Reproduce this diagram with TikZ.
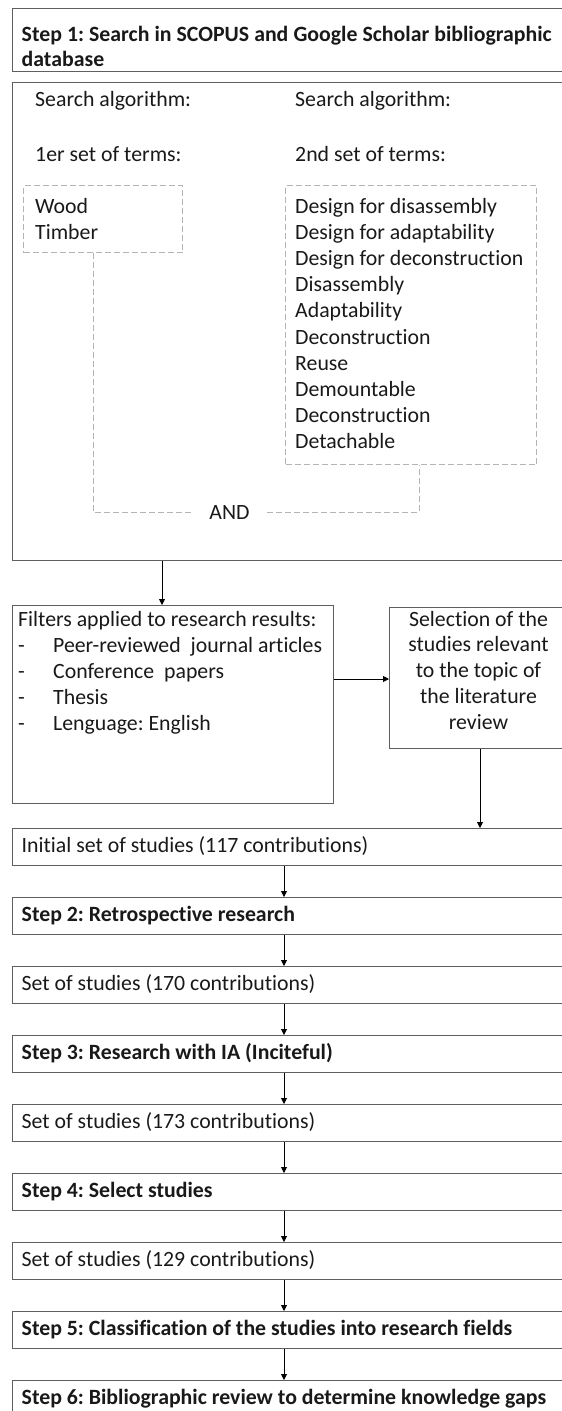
\documentclass[tikz,border=0pt]{standalone}
\usepackage{fontspec}
\setmainfont{Carlito}[Ligatures=NoCommon]
\usetikzlibrary{arrows.meta}
\frenchspacing
\definecolor{boxgray}{RGB}{95,95,95}
\definecolor{dashgray}{RGB}{180,180,180}
\definecolor{txtc}{RGB}{25,25,25}
\newcommand\myfs{\fontsize{21.8}{26.3}\selectfont}
\tikzset{
 mainbox/.style={draw=boxgray, line width=1.4pt, rectangle, inner sep=0pt, anchor=north west},
 dbox/.style={draw=dashgray, line width=1pt, dash pattern=on 6pt off 3pt, rectangle, inner sep=0pt, anchor=north west},
 dline/.style={draw=dashgray, line width=1pt, dash pattern=on 6pt off 3pt},
 lbl/.style={font=\myfs, text=txtc, inner sep=0pt, anchor=base west},
 blbl/.style={font=\myfs\bfseries, text=txtc, inner sep=0pt, anchor=base west},
 clbl/.style={font=\myfs, text=txtc, inner sep=0pt, anchor=base},
 arr/.style={-{Triangle[length=6pt,width=6pt]}, line width=0.9pt, black},
}
\begin{document}
\begin{tikzpicture}[x=1pt,y=-1pt]
\useasboundingbox (0,0) rectangle (562,1411);
\clip (0,0) rectangle (562,1411);
% boxes
\node[mainbox, minimum width=563pt, minimum height=63pt] (b1) at (12,8) {};
\node[mainbox, minimum width=563pt, minimum height=478pt] (b2) at (12,82) {};
\node[dbox, minimum width=159pt, minimum height=67pt] (lbox) at (23,185) {};
\node[dbox, minimum width=251pt, minimum height=279pt] (rbox) at (285,185) {};
\node[mainbox, minimum width=321pt, minimum height=198pt] (filt) at (12,605) {};
\node[mainbox, minimum width=179pt, minimum height=141pt] (sel) at (389,607) {};
\node[mainbox, minimum width=563pt, minimum height=36.5pt] (init) at (12,828) {};
\node[mainbox, minimum width=563pt, minimum height=36.5pt] (s2) at (12,897) {};
\node[mainbox, minimum width=563pt, minimum height=36.5pt] (set170) at (12,966) {};
\node[mainbox, minimum width=563pt, minimum height=36.5pt] (s3) at (12,1035) {};
\node[mainbox, minimum width=563pt, minimum height=36.5pt] (set173) at (12,1104) {};
\node[mainbox, minimum width=563pt, minimum height=36.5pt] (s4) at (12,1173) {};
\node[mainbox, minimum width=563pt, minimum height=36.5pt] (set129) at (12,1242) {};
\node[mainbox, minimum width=563pt, minimum height=36.5pt] (s5) at (12,1311) {};
\node[mainbox, minimum width=563pt, minimum height=36.5pt] (s6) at (12,1380) {};
% texts
\node[blbl] (b1a) at (21.5,41) {\makebox[530pt][s]{Step 1: Search in SCOPUS and Google Scholar bibliographic}};
\node[blbl] (b1b) at (21.5,66) {database};
\node[lbl] (sa1) at (35,106) {Search algorithm:};
\node[lbl] (sa2) at (295,106) {Search algorithm:};
\node[lbl] (st1) at (35,161) {1er set of terms:};
\node[lbl] (st2) at (295,161) {2nd set of terms:};
\node[lbl] (wood) at (35,213) {Wood};
\node[lbl] (timber) at (35,239.2) {Timber};
\foreach \t [count=\i from 0] in {Design for disassembly,Design for adaptability,Design for deconstruction,Disassembly,Adaptability,Deconstruction,Reuse,Demountable,Deconstruction,Detachable}
  \node[lbl] (term\i) at (295,213+26.2*\i) {\t};
\node[font=\myfs, text=txtc, inner ysep=0pt, inner xsep=17pt] (and) at (229.5,512) {AND};
\node[lbl] (f0) at (18,626) {Filters applied to research results:};
\foreach \t [count=\i] in {Peer-reviewed\ \ journal articles,Conference\ \ papers,Thesis,Lenguage: English}{
  \node[lbl] (fd\i) at (18,626+26*\i) {-};
  \node[lbl] (f\i) at (53,626+26*\i) {\t};
}
\foreach \t [count=\i from 0] in {Selection of the,studies relevant,to the topic of,the literature,review}
  \node[clbl] (sl\i) at (478.5,626+25.75*\i) {\t};
\node[lbl] (initt) at (21.5,852.5) {Initial set of studies (117 contributions)};
\node[blbl] (s2t) at (21.5,921.5) {Step 2: Retrospective research};
\node[lbl] (set170t) at (21.5,990.5) {Set of studies (170 contributions)};
\node[blbl] (s3t) at (21.5,1059.5) {Step 3: Research with IA (Inciteful)};
\node[lbl] (set173t) at (21.5,1128.5) {Set of studies (173 contributions)};
\node[blbl] (s4t) at (21.5,1197.5) {Step 4: Select studies};
\node[lbl] (set129t) at (21.5,1266.5) {Set of studies (129 contributions)};
\node[blbl] (s5t) at (21.5,1335.5) {Step 5: Classification of the studies into research fields};
\node[blbl] (s6t) at (21.5,1404.5) {Step 6: Bibliographic review to determine knowledge gaps};
% dashed connector
\coordinate (lj) at (93,512);
\coordinate (rj) at (419,512);
\draw[dline] (lbox.south -| lj) -- (lj) -- (and.west);
\draw[dline] (and.east) -- (rj) -- (rbox.south -| rj);
% arrows
\coordinate (ax) at (162,0);
\coordinate (hy) at (0,679);
\coordinate (sx) at (480,0);
\coordinate (cx) at (284,0);
\draw[arr] (b2.south -| ax) -- (filt.north -| ax);
\draw[arr] (filt.east |- hy) -- (sel.west |- hy);
\draw[arr] (sel.south -| sx) -- (init.north -| sx);
\draw[arr] (init.south -| cx) -- (s2.north -| cx);
\draw[arr] (s2.south -| cx) -- (set170.north -| cx);
\draw[arr] (set170.south -| cx) -- (s3.north -| cx);
\draw[arr] (s3.south -| cx) -- (set173.north -| cx);
\draw[arr] (set173.south -| cx) -- (s4.north -| cx);
\draw[arr] (s4.south -| cx) -- (set129.north -| cx);
\draw[arr] (set129.south -| cx) -- (s5.north -| cx);
\draw[arr] (s5.south -| cx) -- (s6.north -| cx);
\end{tikzpicture}
\end{document}
